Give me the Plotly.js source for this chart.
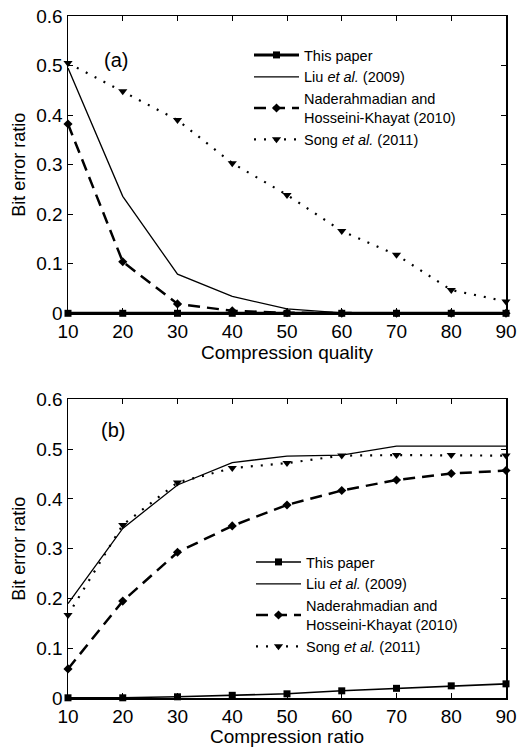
<!DOCTYPE html>
<html>
<head>
<meta charset="utf-8">
<script src="https://cdn.plot.ly/plotly-3.0.1.min.js"></script>
<style>html,body{margin:0;padding:0;background:#fff;}#chart{width:517px;height:747px;}</style>
</head>
<body>
<div id="chart"></div>
<script>
// ---- data ----
const xQuality = [10, 20, 30, 40, 50, 60, 70, 80, 90];
const xRatio = [10, 20, 30, 40, 50, 60, 70, 80, 90];

// (a) Compression quality
const aThisPaper = [0, 0, 0, 0, 0, 0, 0, 0, 0];
const aLiu = [0.495, 0.236, 0.079, 0.034, 0.009, 0.001, 0, 0, 0];
const aNader = [0.382, 0.104, 0.019, 0.005, 0.001, 0, 0, 0, 0];
const aSong = [0.505, 0.448, 0.390, 0.303, 0.239, 0.166, 0.118, 0.047, 0.024];

// (b) Compression ratio
const bThisPaper = [0.001, 0.001, 0.003, 0.006, 0.009, 0.015, 0.020, 0.025, 0.029];
const bLiu = [0.190, 0.341, 0.428, 0.473, 0.486, 0.488, 0.506, 0.506, 0.506];
const bNader = [0.059, 0.195, 0.293, 0.346, 0.388, 0.417, 0.438, 0.451, 0.457];
const bSong = [0.167, 0.348, 0.433, 0.462, 0.472, 0.487, 0.488, 0.488, 0.487];

const names = ["This paper", "Liu <i>et al.</i> (2009)", "Naderahmadian and<br>Hosseini-Khayat (2010)", "Song <i>et al.</i> (2011)"];
const yTicks = [0, 0.1, 0.2, 0.3, 0.4, 0.5, 0.6];
const yTickText = ["0", "0.1", "0.2", "0.3", "0.4", "0.5", "0.6"];

function series(x, ys, xa, ya, leg, thisWidth) {
  return [
    {x: x, y: ys[0], name: names[0], xaxis: xa, yaxis: ya, legend: leg, mode: "lines+markers", cliponaxis: false,
     line: {color: "#000", width: thisWidth}, marker: {symbol: "square", size: 7, color: "#000"}},
    {x: x, y: ys[1], name: names[1], xaxis: xa, yaxis: ya, legend: leg, mode: "lines", cliponaxis: false,
     line: {color: "#000", width: 1.3}},
    {x: x, y: ys[2], name: names[2], xaxis: xa, yaxis: ya, legend: leg, mode: "lines+markers", cliponaxis: false,
     line: {color: "#000", width: 2.5, dash: "12px,7px"}, marker: {symbol: "diamond", size: 7, color: "#000"}},
    {x: x, y: ys[3], name: names[3], xaxis: xa, yaxis: ya, legend: leg, mode: "lines+markers", cliponaxis: false,
     line: {color: "#000", width: 2.2, dash: "2px,8px"}, marker: {symbol: "triangle-down", size: 8, color: "#000"}}
  ];
}

const traces = [].concat(
  series(xQuality, [aThisPaper, aLiu, aNader, aSong], "x", "y", "legend", 3),
  series(xRatio, [bThisPaper, bLiu, bNader, bSong], "x2", "y2", "legend2", 1.6)
);

const font = {family: "Liberation Sans, Arial, sans-serif", color: "#000"};
function xax(title, anchor) {
  return {domain: [68/517, 506/517], anchor: anchor, range: [10, 90], tickmode: "array", tickvals: xQuality,
    ticks: "inside", ticklen: 5, tickwidth: 1, tickcolor: "#000", showline: true, linecolor: "#000", linewidth: 1.5,
    mirror: "ticks", showgrid: false, zeroline: false, tickfont: {size: 19, ...font},
    title: {text: title, font: {size: 19, ...font}, standoff: 2}};
}
function yax(anchor, domain) {
  return {domain: domain, anchor: anchor, range: [0, 0.6], tickmode: "array", tickvals: yTicks, ticktext: yTickText,
    ticks: "inside", ticklen: 5, tickwidth: 1, tickcolor: "#000", showline: true, linecolor: "#000", linewidth: 1.5,
    mirror: "ticks", showgrid: false, zeroline: false, tickfont: {size: 19, ...font},
    title: {text: "Bit error ratio", font: {size: 18, ...font}, standoff: 6}};
}

const legendBase = {xanchor: "left", yanchor: "top", bgcolor: "rgba(0,0,0,0)", borderwidth: 0,
  font: {size: 14.5, ...font}, itemwidth: 45, tracegroupgap: 0};

const layout = {
  width: 517, height: 747,
  margin: {l: 0, r: 0, t: 0, b: 0},
  paper_bgcolor: "#fff", plot_bgcolor: "#fff",
  font: font,
  showlegend: true,
  xaxis: xax("Compression quality", "y"),
  yaxis: yax("x", [1 - 313.3/747, 1 - 16/747]),
  xaxis2: xax("Compression ratio", "y2"),
  yaxis2: yax("x2", [1 - 698.3/747, 1 - 399.3/747]),
  legend: {...legendBase, x: 249/517, y: 1 - 39/747},
  legend2: {...legendBase, x: 251/517, y: 1 - 546/747},
  annotations: [
    {text: "(a)", xref: "paper", yref: "paper", x: 102/517, y: 1 - 47/747, showarrow: false, font: {size: 20, ...font}},
    {text: "(b)", xref: "paper", yref: "paper", x: 99/517, y: 1 - 430/747, showarrow: false, font: {size: 20, ...font}}
  ]
};

Plotly.newPlot("chart", traces, layout, {staticPlot: true, displayModeBar: false});
</script>
</body>
</html>
